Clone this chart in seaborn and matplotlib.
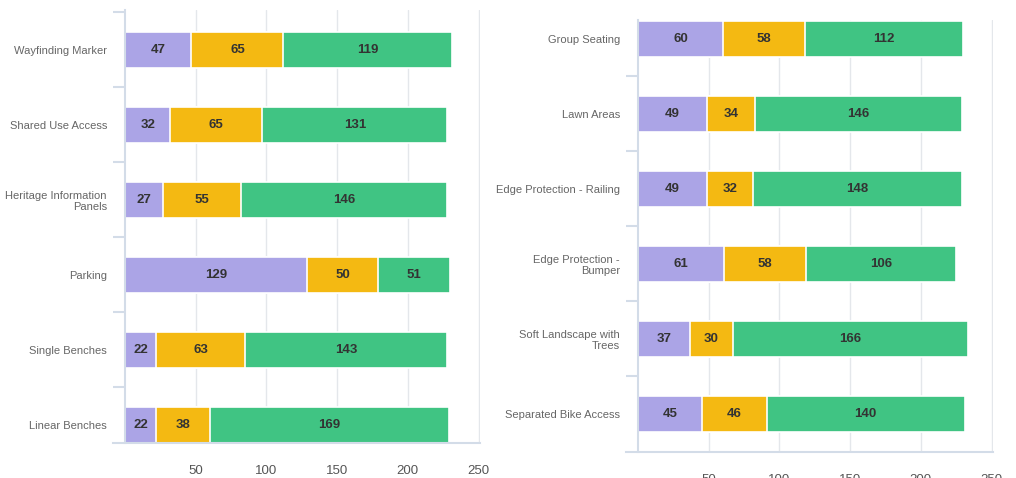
import numpy as np
import pandas as pd
import matplotlib
matplotlib.use("Agg")
import matplotlib.pyplot as plt
import seaborn as sns
from matplotlib.ticker import FixedLocator

# ---- data ----
left_categories = ["Wayfinding Marker", "Shared Use Access", "Heritage Information\nPanels",
                   "Parking", "Single Benches", "Linear Benches"]
left_purple = [47, 32, 27, 129, 22, 22]
left_yellow = [65, 65, 55, 50, 63, 38]
left_green = [119, 131, 146, 51, 143, 169]

right_categories = ["Group Seating", "Lawn Areas", "Edge Protection - Railing",
                    "Edge Protection -\nBumper", "Soft Landscape with\nTrees", "Separated Bike Access"]
right_purple = [60, 49, 49, 61, 37, 45]
right_yellow = [58, 34, 32, 58, 30, 46]
right_green = [112, 146, 148, 106, 166, 140]

x_ticks = [50, 100, 150, 200, 250]
colors = ["#ABA4E6", "#F4B912", "#40C483"]

sns.set_style("white")
plt.rcParams["font.family"] = ["Liberation Sans", "DejaVu Sans"]

fig = plt.figure(figsize=(10.16, 4.78), dpi=100)
ax_l = fig.add_axes([113 / 1016, 35 / 478, 367 / 1016, 433 / 478])
ax_r = fig.add_axes([626 / 1016, 26 / 478, 367 / 1016, 432 / 478])

spine_col = "#d3dce8"


def draw(ax, cats, p, yv, g, ylim):
    df = pd.DataFrame({"cat": cats, "p": p, "y": yv, "g": g})
    df["py"] = df["p"] + df["y"]
    df["total"] = df["py"] + df["g"]
    for col, c in [("total", colors[2]), ("py", colors[1]), ("p", colors[0])]:
        sns.barplot(data=df, x=col, y="cat", orient="y", color=c, saturation=1,
                    width=0.48, edgecolor="white", linewidth=1.2, errorbar=None,
                    ax=ax, zorder=3)
    for i in range(len(cats)):
        starts = [0, p[i], p[i] + yv[i]]
        for s, v in zip(starts, [p[i], yv[i], g[i]]):
            ax.text(s + v / 2, i, str(v), ha="center", va="center", fontsize=9.5,
                    fontweight="bold", color="#333333", zorder=5)
    ax.set_xlim(-8.5, 251)
    ax.set_ylim(ylim)
    ax.set_xticks(x_ticks)
    ax.grid(axis="x", color="#e4e7eb", lw=1, zorder=0)
    ax.grid(axis="y", visible=False)
    ax.set_axisbelow(True)
    ax.spines["left"].set_position(("data", 0))
    for s in ["top", "right"]:
        ax.spines[s].set_visible(False)
    for s in ["left", "bottom"]:
        ax.spines[s].set_color(spine_col)
        ax.spines[s].set_linewidth(1.5)
        ax.spines[s].set_zorder(4)
    ax.tick_params(axis="x", length=0, pad=16, labelsize=9.5, labelcolor="#555555")
    ax.tick_params(axis="y", which="major", left=True, length=0, pad=13,
                   labelsize=8, labelcolor="#666666")
    ax.yaxis.set_minor_locator(FixedLocator([-0.5, 0.5, 1.5, 2.5, 3.5, 4.5]))
    ax.tick_params(axis="y", which="minor", left=True, length=9, width=1.5,
                   color=spine_col, direction="out")
    for lab in ax.get_yticklabels():
        lab.set_linespacing(1.15)
    ax.set_xlabel("")
    ax.set_ylabel("")


draw(ax_l, left_categories, left_purple, left_yellow, left_green, (5.24, -0.533))
draw(ax_r, right_categories, right_purple, right_yellow, right_green, (5.51, -0.247))

fig.savefig("out.png", dpi=100)
